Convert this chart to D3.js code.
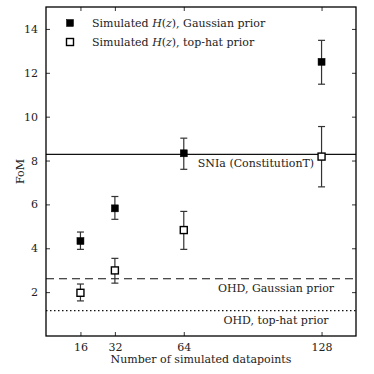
<!DOCTYPE html>
<html lang="en">
	<head>
		<meta charset="utf-8">
		<title>FoM vs number of simulated datapoints</title>
		<script type="text/javascript" src="https://cdn.jsdelivr.net/npm/d3@7"></script>
		<style type="text/css">
			body { margin: 0; background: #fff; }
			text { font-family: "DejaVu Serif", "Liberation Serif", serif; fill: #222; }
		</style>
	</head>
	<body>
		<script type="text/javascript">

			// Data
			var npoints = [16, 32, 64, 128];
			var gaussFoM  = [4.33, 5.82, 8.33, 12.50];
			var gaussLow  = [3.95, 5.32, 7.60, 11.48];
			var gaussHigh = [4.74, 6.36, 9.02, 13.48];
			var tophatFoM  = [1.97, 2.99, 4.83, 8.18];
			var tophatLow  = [1.60, 2.41, 3.95, 6.80];
			var tophatHigh = [2.37, 3.54, 5.68, 9.55];
			var refLevels = [8.28, 2.61, 1.16];
			var refNames = ["SNIa (ConstitutionT)", "OHD, Gaussian prior", "OHD, top-hat prior"];
			var yTicks = [2, 4, 6, 8, 10, 12, 14];

			var w = 374, h = 374;
			var margin = {top: 7, right: 18, bottom: 38, left: 46};

			var svg = d3.select("body").append("svg")
						.attr("width", w)
						.attr("height", h);

			var xScale = d3.scaleLinear().domain([0, 144]).range([margin.left, w - margin.right]);
			var yScale = d3.scaleLinear().domain([0, 15]).range([h - margin.bottom, margin.top]);

			var x0 = xScale.range()[0], x1 = xScale.range()[1];
			var y0 = yScale.range()[0], y1 = yScale.range()[1];

			// Horizontal reference lines
			var dashes = [null, "8,5", "1.5,2.5"];
			svg.selectAll("line.ref")
			   .data(refLevels)
			   .enter()
			   .append("line")
			   .attr("class", "ref")
			   .attr("x1", x0).attr("x2", x1)
			   .attr("y1", function(d) { return yScale(d); })
			   .attr("y2", function(d) { return yScale(d); })
			   .attr("stroke", "#111")
			   .attr("stroke-width", 1.2)
			   .attr("stroke-dasharray", function(d, i) { return dashes[i]; });

			// Labels for reference lines
			var labelX = [256, 276, 276];
			svg.selectAll("text.ref")
			   .data(refNames)
			   .enter()
			   .append("text")
			   .attr("class", "ref")
			   .attr("x", function(d, i) { return labelX[i]; })
			   .attr("y", function(d, i) { return yScale(refLevels[i]) + 13; })
			   .attr("text-anchor", "middle")
			   .attr("font-size", "11px")
			   .text(function(d) { return d; });

			// Error bars + markers
			function drawSeries(vals, lo, hi, filled) {
				var g = svg.append("g");
				var cap = 3.5;
				npoints.forEach(function(n, i) {
					var cx = xScale(n);
					g.append("line")
					 .attr("x1", cx).attr("x2", cx)
					 .attr("y1", yScale(lo[i])).attr("y2", yScale(hi[i]))
					 .attr("stroke", "#333").attr("stroke-width", 1.2);
					[lo[i], hi[i]].forEach(function(v) {
						g.append("line")
						 .attr("x1", cx - cap).attr("x2", cx + cap)
						 .attr("y1", yScale(v)).attr("y2", yScale(v))
						 .attr("stroke", "#333").attr("stroke-width", 1.2);
					});
				});
				g.selectAll("rect")
				 .data(vals)
				 .enter()
				 .append("rect")
				 .attr("x", function(d, i) { return xScale(npoints[i]) - 3.5; })
				 .attr("y", function(d) { return yScale(d) - 3.5; })
				 .attr("width", 7)
				 .attr("height", 7)
				 .attr("fill", filled ? "#000" : "#fff")
				 .attr("stroke", "#000")
				 .attr("stroke-width", filled ? 0.5 : 1.4);
			}
			drawSeries(gaussFoM, gaussLow, gaussHigh, true);
			drawSeries(tophatFoM, tophatLow, tophatHigh, false);

			// Axes (ticks inward, on all sides)
			var tickLen = 4;
			var bottomAxis = d3.axisBottom(xScale).tickValues(npoints).tickSizeInner(-tickLen).tickSizeOuter(0).tickPadding(7);
			var topAxis = d3.axisTop(xScale).tickValues(npoints).tickSizeInner(-tickLen).tickSizeOuter(0).tickFormat("");
			var leftAxis = d3.axisLeft(yScale).tickValues(yTicks).tickSizeInner(-tickLen).tickSizeOuter(0).tickPadding(8);
			var rightAxis = d3.axisRight(yScale).tickValues(yTicks).tickSizeInner(-tickLen).tickSizeOuter(0).tickFormat("");

			function styleAxis(sel) {
				sel.select(".domain").remove();
				sel.selectAll(".tick line").attr("stroke", "#333");
				sel.selectAll(".tick text")
				   .attr("font-family", "DejaVu Serif, Liberation Serif, serif")
				   .attr("font-size", "11px")
				   .attr("fill", "#222");
			}
			svg.append("g").attr("transform", "translate(0," + y0 + ")").call(bottomAxis).call(styleAxis);
			svg.append("g").attr("transform", "translate(0," + y1 + ")").call(topAxis).call(styleAxis);
			svg.append("g").attr("transform", "translate(" + x0 + ",0)").call(leftAxis).call(styleAxis);
			svg.append("g").attr("transform", "translate(" + x1 + ",0)").call(rightAxis).call(styleAxis);

			// Frame
			svg.append("rect")
			   .attr("x", x0).attr("y", y1)
			   .attr("width", x1 - x0).attr("height", y0 - y1)
			   .attr("fill", "none")
			   .attr("stroke", "#000")
			   .attr("stroke-width", 1.3);

			// Axis titles
			svg.append("text")
			   .attr("x", (x0 + x1) / 2)
			   .attr("y", h - 11)
			   .attr("text-anchor", "middle")
			   .attr("font-size", "11px")
			   .text("Number of simulated datapoints");

			svg.append("text")
			   .attr("transform", "translate(24," + ((y0 + y1) / 2) + ") rotate(-90)")
			   .attr("text-anchor", "middle")
			   .attr("font-size", "11px")
			   .text("FoM");

			// Legend
			var legend = svg.append("g").attr("transform", "translate(70,23)");
			var legendRows = [
				{fill: "#000", width: 0.5, label: ", Gaussian prior"},
				{fill: "#fff", width: 1.4, label: ", top-hat prior"}
			];
			legendRows.forEach(function(r, i) {
				var gy = i * 19;
				legend.append("rect")
				      .attr("x", -3.5).attr("y", gy - 3.5)
				      .attr("width", 7).attr("height", 7)
				      .attr("fill", r.fill)
				      .attr("stroke", "#000")
				      .attr("stroke-width", r.width);
				var t = legend.append("text")
				      .attr("x", 22).attr("y", gy + 4)
				      .attr("font-size", "11px");
				t.append("tspan").text("Simulated ");
				t.append("tspan").attr("font-style", "italic").text("H");
				t.append("tspan").text("(");
				t.append("tspan").attr("font-style", "italic").text("z");
				t.append("tspan").text(")" + r.label);
			});

		</script>
	</body>
</html>
